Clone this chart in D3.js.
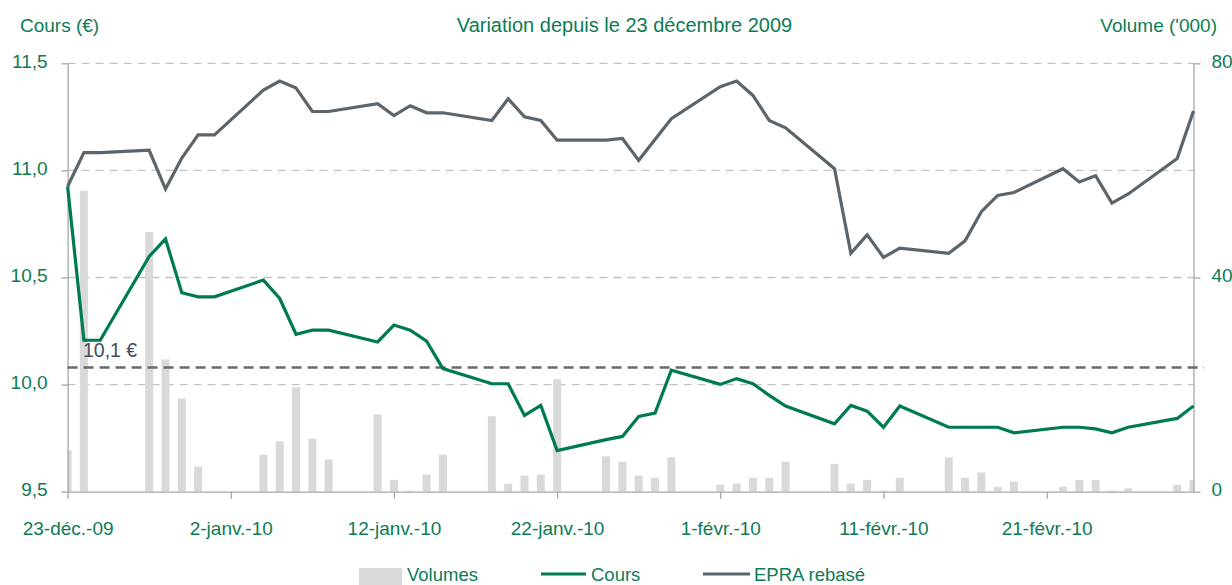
<!DOCTYPE html>
<html><head><meta charset="utf-8">
<script src="https://cdn.jsdelivr.net/npm/d3@7"></script>
<style>
body{margin:0;background:#fff}
text{font-family:"Liberation Sans",Arial,sans-serif}
</style>
</head><body>
<svg id="c" width="1232" height="585"></svg>
<script>
// ---- data ----
const dates = ["2009-12-23","2009-12-24","2009-12-25","2009-12-28","2009-12-29","2009-12-30","2009-12-31","2010-01-01",
"2010-01-04","2010-01-05","2010-01-06","2010-01-07","2010-01-08",
"2010-01-11","2010-01-12","2010-01-13","2010-01-14","2010-01-15",
"2010-01-18","2010-01-19","2010-01-20","2010-01-21","2010-01-22",
"2010-01-25","2010-01-26","2010-01-27","2010-01-28","2010-01-29",
"2010-02-01","2010-02-02","2010-02-03","2010-02-04","2010-02-05",
"2010-02-08","2010-02-09","2010-02-10","2010-02-11","2010-02-12",
"2010-02-15","2010-02-16","2010-02-17","2010-02-18","2010-02-19",
"2010-02-22","2010-02-23","2010-02-24","2010-02-25","2010-02-26",
"2010-03-01","2010-03-02"];
const cours = [10.925,10.207,10.207,10.598,10.680,10.429,10.410,10.410,
10.488,10.402,10.235,10.254,10.254,
10.199,10.278,10.254,10.203,10.075,
10.004,10.004,9.856,9.903,9.692,
9.743,9.758,9.851,9.867,10.067,
10.001,10.028,10.004,9.950,9.900,
9.817,9.903,9.876,9.801,9.900,
9.801,9.801,9.801,9.801,9.775,
9.801,9.801,9.793,9.775,9.801,
9.842,9.900];
const epra = [10.925,11.083,11.083,11.094,10.913,11.058,11.166,11.166,
11.375,11.417,11.384,11.275,11.275,
11.311,11.256,11.302,11.269,11.269,
11.233,11.334,11.250,11.233,11.141,
11.141,11.149,11.047,11.144,11.241,
11.391,11.417,11.350,11.233,11.199,
11.008,10.613,10.699,10.594,10.637,
10.613,10.671,10.807,10.883,10.897,
11.008,10.946,10.975,10.847,10.890,
11.055,11.277];
const volumes = [7.7,56.2,0,48.5,24.7,17.4,4.7,0,
6.9,9.4,19.5,9.9,6.0,
14.4,2.2,0.2,3.2,6.9,
14.1,1.5,3.0,3.2,21.0,
6.6,5.6,3.0,2.6,6.4,
1.3,1.5,2.6,2.6,5.6,
5.2,1.5,2.2,0.2,2.6,
6.4,2.6,3.6,0.9,1.9,
0.9,2.2,2.2,0.2,0.6,
1.3,2.2];
const tickDates = ["2009-12-23","2010-01-02","2010-01-12","2010-01-22","2010-02-01","2010-02-11","2010-02-21"];
const tickLabels = ["23-déc.-09","2-janv.-10","12-janv.-10","22-janv.-10","1-févr.-10","11-févr.-10","21-févr.-10"];
const leftTicks = [9.5,10.0,10.5,11.0,11.5];
const rightTicks = [0,40,80];
const refLevel = 10.08;
const refLabel = "10,1 €";
const seriesNames = ["Volumes","Cours","EPRA rebasé"];
const titles = ["Cours (€)","Variation depuis le 23 décembre 2009","Volume ('000)"];

// ---- styles ----
const GREEN = "#007a4f", GREY = "#5b656b", TXT = "#0b7c56", BAR = "#d9d9d9", AX = "#a6a6a6";
const FS = 19;

const parse = d3.utcParse("%Y-%m-%d");
const D = dates.map(parse);
const L = 67.6, R = 1193.5, T = 63.3, B = 491.7;

const svg = d3.select("#c");
const x = d3.scaleUtc().domain([parse("2009-12-23"), parse("2010-03-02")]).range([L, R]);
const yL = d3.scaleLinear().domain([9.5, 11.5]).range([B, T]);
const yR = d3.scaleLinear().domain([0, 80]).range([B, T]);

svg.append("clipPath").attr("id","plot").append("rect")
  .attr("x", L).attr("y", 0).attr("width", R - L).attr("height", B);

// gridlines
svg.append("g").selectAll("line").data(leftTicks.filter(v => v !== 9.5)).join("line")
  .attr("x1", L).attr("x2", R).attr("y1", d => yL(d)).attr("y2", d => yL(d))
  .attr("stroke", "#c3c3c3").attr("stroke-width", 1.3).attr("stroke-dasharray", "8,6");

// bars
svg.append("g").attr("clip-path","url(#plot)").selectAll("rect").data(volumes).join("rect")
  .attr("x", (d,i) => x(D[i]) - 4).attr("width", 8)
  .attr("y", d => yR(d)).attr("height", d => B - yR(d))
  .attr("fill", BAR);

// axes
const fmt = d => d3.format(".1f")(d).replace(".", ",");
const gl = svg.append("g").attr("transform", `translate(${L},0)`)
  .call(d3.axisLeft(yL).tickValues(leftTicks).tickFormat(fmt).tickSize(6).tickSizeOuter(0).tickPadding(14));
const gr = svg.append("g").attr("transform", `translate(${R},0)`)
  .call(d3.axisRight(yR).tickValues(rightTicks).tickSize(7).tickSizeOuter(0).tickPadding(11));
const gb = svg.append("g").attr("transform", `translate(0,${B})`)
  .call(d3.axisBottom(x).tickValues(tickDates.map(parse)).tickFormat((d,i) => tickLabels[i]).tickSize(7).tickSizeOuter(0).tickPadding(23));
[gl, gr, gb].forEach(g => {
  g.select(".domain").attr("stroke", AX).attr("stroke-width", 1.3);
  g.selectAll(".tick line").attr("stroke", AX).attr("stroke-width", 1.3);
  g.selectAll(".tick text").attr("fill", TXT).attr("font-size", FS)
    .attr("font-family", '"Liberation Sans",Arial,sans-serif');
});
gl.selectAll(".tick text").attr("dy", "0.2em");
gr.selectAll(".tick text").attr("dy", "0.2em");

// reference line
svg.append("line").attr("x1", L).attr("x2", 1204).attr("y1", yL(refLevel)).attr("y2", yL(refLevel))
  .attr("stroke", "#696969").attr("stroke-width", 2.6).attr("stroke-dasharray", "10,6");
svg.append("text").attr("x", 83).attr("y", 357).attr("fill", "#3d4e66").attr("font-size", 19.5).text(refLabel);

// lines
const line = vals => d3.line().x((d,i) => x(D[i])).y(d => yL(d))(vals);
svg.append("path").attr("d", line(epra)).attr("fill","none").attr("stroke", GREY).attr("stroke-width", 3.2);
svg.append("path").attr("d", line(cours)).attr("fill","none").attr("stroke", GREEN).attr("stroke-width", 3.2);

// titles
svg.append("text").attr("x", 20).attr("y", 32).attr("fill", TXT).attr("font-size", FS).text(titles[0]);
svg.append("text").attr("x", 624.5).attr("y", 32).attr("text-anchor","middle").attr("fill", TXT).attr("font-size", 20).text(titles[1]);
svg.append("text").attr("x", 1217).attr("y", 32).attr("text-anchor","end").attr("fill", TXT).attr("font-size", FS).text(titles[2]);

// legend
const lg = svg.append("g");
lg.append("rect").attr("x", 359).attr("y", 568).attr("width", 43).attr("height", 20).attr("fill", BAR);
lg.append("text").attr("x", 407).attr("y", 580.5).attr("fill", TXT).attr("font-size", 18.5).text(seriesNames[0]);
lg.append("line").attr("x1", 541).attr("x2", 586).attr("y1", 574).attr("y2", 574).attr("stroke", GREEN).attr("stroke-width", 3.2);
lg.append("text").attr("x", 591).attr("y", 580.5).attr("fill", TXT).attr("font-size", 18.5).text(seriesNames[1]);
lg.append("line").attr("x1", 703).attr("x2", 750).attr("y1", 574).attr("y2", 574).attr("stroke", GREY).attr("stroke-width", 3.2);
lg.append("text").attr("x", 754).attr("y", 580.5).attr("fill", TXT).attr("font-size", 18.5).text(seriesNames[2]);
</script>
</body></html>
